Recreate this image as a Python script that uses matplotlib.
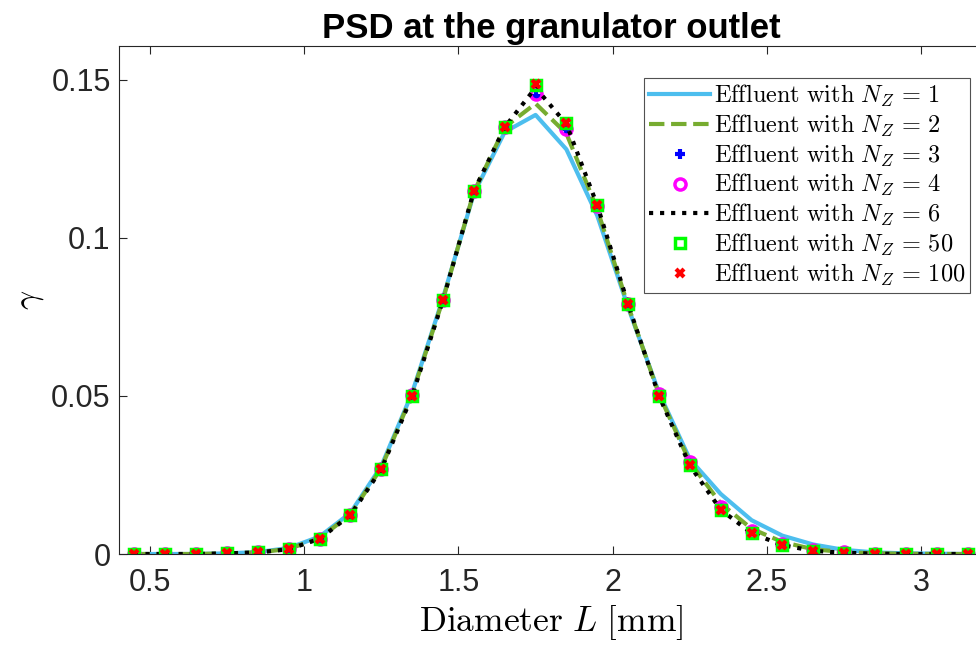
import matplotlib
matplotlib.use('Agg')
import matplotlib.pyplot as plt

plt.rcParams['mathtext.fontset'] = 'cm'
plt.rcParams['font.family'] = ['Liberation Sans', 'DejaVu Sans']

# diameter classes [mm]
L = [0.45, 0.55, 0.65, 0.75, 0.85, 0.95, 1.05, 1.15, 1.25, 1.35,
     1.45, 1.55, 1.65, 1.75, 1.85, 1.95, 2.05, 2.15, 2.25, 2.35,
     2.45, 2.55, 2.65, 2.75, 2.85, 2.95, 3.05, 3.15]

nz1 = [0, 0, 0, 0.0002, 0.0006, 0.0019, 0.0055, 0.0130, 0.0278, 0.0510,
       0.0810, 0.1140, 0.1335, 0.1389, 0.1280, 0.1070, 0.0780, 0.0510, 0.0300, 0.0190,
       0.0107, 0.0058, 0.0030, 0.0013, 0.0005, 0.0002, 0.0001, 0]
nz2 = [0, 0, 0, 0.0002, 0.0005, 0.0016, 0.0050, 0.0125, 0.0272, 0.0505,
       0.0805, 0.1145, 0.1350, 0.1425, 0.1330, 0.1090, 0.0785, 0.0505, 0.0290, 0.0160,
       0.0080, 0.0038, 0.0015, 0.0006, 0.0002, 0.0001, 0, 0]
nz3 = [0, 0, 0, 0.0002, 0.0005, 0.0015, 0.0049, 0.0124, 0.0270, 0.0502,
       0.0804, 0.1147, 0.1350, 0.1448, 0.1345, 0.1100, 0.0788, 0.0502, 0.0288, 0.0148,
       0.0072, 0.0031, 0.0012, 0.0005, 0.0001, 0, 0, 0]
nz4 = [0, 0, 0, 0.0002, 0.0005, 0.0015, 0.0049, 0.0124, 0.0270, 0.0502,
       0.0804, 0.1148, 0.1350, 0.1455, 0.1345, 0.1100, 0.0790, 0.0505, 0.0290, 0.0148,
       0.0072, 0.0031, 0.0012, 0.0005, 0.0001, 0, 0, 0]
nz6 = [0, 0, 0, 0.0002, 0.0005, 0.0015, 0.0048, 0.0123, 0.0268, 0.0500,
       0.0803, 0.1148, 0.1350, 0.1475, 0.1360, 0.1103, 0.0790, 0.0500, 0.0280, 0.0140,
       0.0066, 0.0028, 0.0010, 0.0004, 0.0001, 0, 0, 0]
nz50 = [0, 0, 0, 0.0002, 0.0005, 0.0015, 0.0048, 0.0123, 0.0268, 0.0500,
        0.0803, 0.1148, 0.1350, 0.1485, 0.1365, 0.1103, 0.0790, 0.0500, 0.0280, 0.0138,
        0.0065, 0.0028, 0.0010, 0.0004, 0.0001, 0, 0, 0]
nz100 = [0, 0, 0, 0.0002, 0.0005, 0.0015, 0.0048, 0.0123, 0.0268, 0.0500,
         0.0803, 0.1148, 0.1350, 0.1488, 0.1365, 0.1103, 0.0790, 0.0500, 0.0280, 0.0138,
         0.0065, 0.0028, 0.0010, 0.0004, 0.0001, 0, 0, 0]

def lab(n):
    return r'$\mathrm{Effluent\ with\ }N_Z\,=\,%d$' % n

fig = plt.figure(figsize=(9.76, 6.46), dpi=100)
ax = fig.add_axes([119 / 976, 1 - 554 / 646, (983 - 119) / 976, (554 - 46) / 646])

ax.plot(L, nz1, '-', color='#4DBEEE', lw=3, label=lab(1))
ax.plot(L, nz2, '--', color='#77AC30', lw=3, label=lab(2))
ax.plot(L, nz3, '+', color='blue', ms=7, mew=3, ls='none', label=lab(3))
ax.plot(L, nz4, 'o', color='magenta', mfc='none', ms=8, mew=2.5, ls='none', label=lab(4))
ax.plot(L, nz6, ':', color='black', lw=3, label=lab(6))
ax.plot(L, nz50, 's', color='#00FF00', mfc='none', ms=7, mew=2.5, ls='none', label=lab(50))
ax.plot(L, nz100, 'x', color='red', ms=5.5, mew=3, ls='none', label=lab(100))

ax.set_xlim(0.4, 3.2)
ax.set_ylim(0, 0.1607)
ax.set_xticks([0.5, 1, 1.5, 2, 2.5, 3])
ax.set_xticklabels(['0.5', '1', '1.5', '2', '2.5', '3'])
ax.set_yticks([0, 0.05, 0.1, 0.15])
ax.set_yticklabels(['0', '0.05', '0.1', '0.15'])
ax.tick_params(direction='in', top=True, right=False, labelsize=22, colors='#262626',
               length=6, width=0.8)
ax.tick_params(axis='x', pad=10)
ax.tick_params(axis='y', pad=6)
for s in ax.spines.values():
    s.set_color('#262626')
    s.set_linewidth(0.8)

ax.set_xlabel(r'$\mathrm{Diameter}\ L\ [\mathrm{mm}]$', fontsize=25.5, labelpad=4)
ax.set_ylabel(r'$\gamma$', fontsize=24, labelpad=4)
ax.set_title('PSD at the granulator outlet', fontsize=25, fontweight='bold', pad=6)

leg = ax.legend(loc='upper right', bbox_to_anchor=(970 / 976, 1 - 78 / 646),
                bbox_transform=fig.transFigure, fontsize=17.5, frameon=True,
                fancybox=False, edgecolor='#262626', handlelength=2.5,
                borderpad=0.2, labelspacing=0.15, handletextpad=0.15, borderaxespad=0)
leg.get_frame().set_linewidth(0.8)

fig.savefig('out.png', dpi=100)
